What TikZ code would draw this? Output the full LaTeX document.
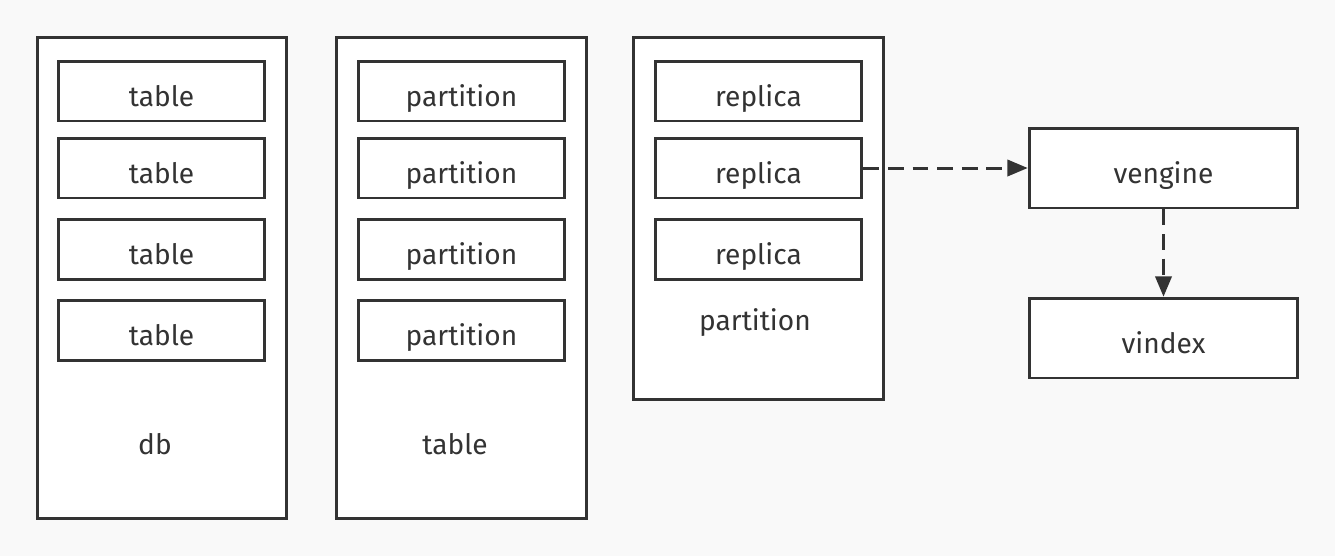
\documentclass[tikz,border=0pt]{standalone}
\usepackage{fontspec}
\setmainfont{Fira Sans}
\usepackage{tikz}
\usetikzlibrary{arrows}
\definecolor{bgcol}{HTML}{F9F9F9}
\definecolor{inkcol}{HTML}{333333}
\tikzset{
  box/.style = {rectangle, draw=inkcol, fill=white, line width=1.7pt,
    inner sep=0pt, font=\fontsize{16}{18}\selectfont, text=inkcol,
    text height=18pt, text depth=0pt},
  box_outer/.style = {box, minimum width=5cm, minimum height=9.64cm},% grande boite
  box_inner/.style = {box, minimum width=4.14cm, minimum height=1.2cm},% petite boite
  box_side/.style = {box, minimum width=5.38cm, minimum height=1.6cm},% boite a droite
  lbl/.style = {font=\fontsize{16}{18}\selectfont, text=inkcol, inner sep=0pt}
}

\begin{document}
\begin{tikzpicture}[x=0.02cm, y=-0.02cm, >=triangle 45]
\fill[bgcol] (0,0) rectangle (1335,556);
\useasboundingbox (0,0) rectangle (1335,556);

% db
\node [box_outer] (db) at (162,278) {};
\node [box_inner] (t1) at (161.5,91) {table};
\node [box_inner] (t2) at (161.5,168) {table};
\node [box_inner] (t3) at (161.5,249) {table};
\node [box_inner] (t4) at (161.5,330) {table};
\node [lbl] (dblbl) at (155,444) {db};

% table
\node [box_outer] (tbl) at (461.5,278) {};
\node [box_inner] (p1) at (461.5,91) {partition};
\node [box_inner] (p2) at (461.5,168) {partition};
\node [box_inner] (p3) at (461.5,249) {partition};
\node [box_inner] (p4) at (461.5,330) {partition};
\node [lbl] (tbllbl) at (455,444) {table};

% partition
\node [box_outer, minimum height=7.26cm] (part) at (758.5,218.5) {};
\node [box_inner] (r1) at (758.5,91) {replica};
\node [box_inner] (r2) at (758.5,168) {replica};
\node [box_inner] (r3) at (758.5,249) {replica};
\node [lbl] (partlbl) at (755,323) {partition};

% vengine / vindex
\node [box_side] (veng) at (1163.5,168) {vengine};
\node [box_side] (vidx) at (1163.5,338) {vindex};

\draw [->, dashed, draw=inkcol, line width=1.7pt, dash pattern=on 9pt off 5pt]
  (r2.east) -- (veng.west);
\draw [->, dashed, draw=inkcol, line width=1.7pt, dash pattern=on 9pt off 5pt]
  (veng.south) -- (vidx.north);
\end{tikzpicture}
\end{document}
